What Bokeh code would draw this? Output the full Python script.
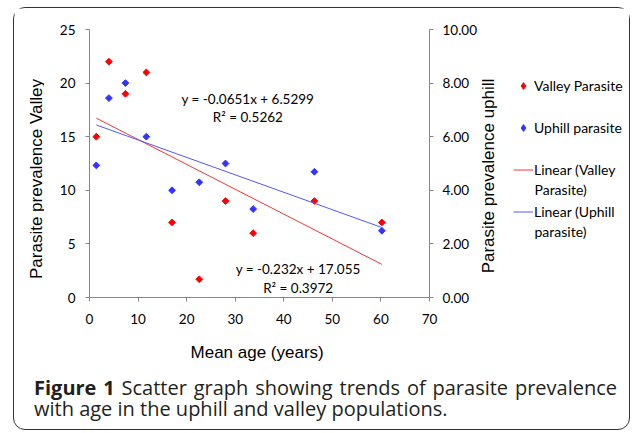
import numpy as np
from bokeh.plotting import figure
from bokeh.layouts import column, row
from bokeh.models import (Range1d, LinearAxis, FixedTicker, NumeralTickFormatter,
                          Label, Legend, LegendItem, Div)
from bokeh.core.properties import value
from bokeh.embed import file_html
from bokeh.resources import INLINE

# ---- data ----
age = [1.4, 4.0, 7.4, 11.7, 17.0, 22.6, 28.0, 33.7, 46.3, 60.2]
valley = [15, 22, 19, 21, 7, 1.7, 9, 6, 9, 7]
uphill = [4.93, 7.44, 8.0, 6.0, 4.0, 4.3, 5.0, 3.3, 4.69, 2.49]
valley_fit = [-0.232, 17.055]      # slope, intercept (Excel trendline)
uphill_fit = [-0.0651, 6.5299]
valley_eq = ["y = -0.232x + 17.055", "R\u00b2 = 0.3972"]
uphill_eq = ["y = -0.0651x + 6.5299", "R\u00b2 = 0.5262"]
x_ticks = [0, 10, 20, 30, 40, 50, 60, 70]
left_ticks = [0, 5, 10, 15, 20, 25]
right_ticks = [0, 2, 4, 6, 8, 10]
legend_first = ["Valley Parasite", "Uphill parasite", "Linear (Valley", "Linear (Uphill"]
legend_second = ["Parasite)", "parasite)"]
x_title = "Mean age  (years)"
left_title = "Parasite prevalence Valley"
right_title = "Parasite prevalence uphill"
caption_bold = "Figure 1"
caption_line1 = "Scatter graph showing trends of parasite prevalence"
caption_line2 = "with age in the uphill and valley populations."

RED = "#ff0000"
BLUE = "#3333ff"
RED_LINE = "#ff3333"
BLUE_LINE = "#5555ff"
AXIS = "#868686"
TICK_FONT = "Lato"
TITLE_FONT = "Liberation Sans"
H = 361            # height of the plot row
BT, BB = 21, 72    # shared top / bottom borders (frames are aligned in a row)
FH = H - BT - BB   # frame height

# ---------------- main plot ----------------
p = figure(width=436, height=H, x_range=Range1d(0, 70), y_range=Range1d(0, 25),
           output_backend="svg", toolbar_location=None, title=None,
           min_border_left=45, min_border_right=50, min_border_top=BT,
           min_border_bottom=BB)
p.outline_line_color = None
p.xgrid.visible = False
p.ygrid.visible = False
p.extra_y_ranges = {"up": Range1d(0, 10)}

x_ax = p.xaxis[0]
left_ax = p.yaxis[0]
x_ax.ticker = FixedTicker(ticks=x_ticks)
left_ax.ticker = FixedTicker(ticks=left_ticks)
right_ax = LinearAxis(y_range_name="up", ticker=FixedTicker(ticks=right_ticks),
                      formatter=NumeralTickFormatter(format="0.00"))
p.add_layout(right_ax, "right")

x_ax.axis_label = x_title

for ax in [x_ax, left_ax, right_ax]:
    ax.axis_line_color = AXIS
    ax.major_tick_line_color = AXIS
    ax.minor_tick_line_color = None
    ax.major_tick_out = 4
    ax.major_tick_in = 0
    ax.major_label_text_font = TICK_FONT
    ax.major_label_text_font_size = "13.5px"
    ax.major_label_text_color = "#000000"
    ax.major_label_standoff = 10
    ax.axis_label_text_font = TITLE_FONT
    ax.axis_label_text_font_size = "17px"
    ax.axis_label_text_font_style = "normal"
    ax.axis_label_text_color = "#000000"
x_ax.major_label_standoff = 12
x_ax.axis_label_standoff = 16
right_ax.major_label_standoff = 9

# scatter points
p.scatter(age, valley, marker="square", angle=np.pi / 4, size=4.8, color=RED)
p.scatter(age, uphill, y_range_name="up", marker="square", angle=np.pi / 4,
          size=4.8, color=BLUE)

# linear trend lines from the fitted equations
xs = [min(age), max(age)]
p.line(xs, [valley_fit[0] * x + valley_fit[1] for x in xs], color=RED_LINE,
       line_width=1)
p.line(xs, [uphill_fit[0] * x + uphill_fit[1] for x in xs], y_range_name="up",
       color=BLUE_LINE, line_width=1)

# equations
def eq_labels(lines, cx, y0, y1):
    for t, yy in zip(lines, [y0, y1]):
        p.add_layout(Label(x=cx, y=yy, text=t, text_align="center",
                           text_baseline="alphabetic", text_font=TICK_FONT,
                           text_font_size="13.5px", text_color="#000000"))

eq_labels(uphill_eq, 32.6, 18.56, 16.82)
eq_labels(valley_eq, 42.96, 2.64, 0.9)


def side_fig(w, left=0):
    f = figure(width=w, height=H, x_range=Range1d(0, w - left), y_range=Range1d(0, FH),
               output_backend="svg", toolbar_location=None, title=None,
               x_axis_location=None, y_axis_location=None,
               min_border_left=left, min_border_right=0, min_border_top=BT,
               min_border_bottom=BB)
    f.outline_line_color = None
    f.xgrid.visible = False
    f.ygrid.visible = False
    return f

# ---------------- axis titles (left / right) ----------------
tl = side_fig(30)
tl.text(x=[21.5], y=[118.5], text=[left_title], angle=np.pi / 2,
        text_align="center", text_baseline="middle",
        text_font=value(TITLE_FONT), text_font_size="17px", text_color="#000000")

tr = side_fig(30)
tr.text(x=[7.5], y=[121.5], text=[right_title], angle=np.pi / 2,
        text_align="center", text_baseline="middle",
        text_font=value(TITLE_FONT), text_font_size="17px", text_color="#000000")

# ---------------- legend ----------------
lg = side_fig(119, left=3)
# legend keys (their single points lie outside the visible range)
k1 = lg.scatter([-50], [-50], marker="diamond", size=9, color=RED)
k2 = lg.scatter([-50], [-50], marker="diamond", size=9, color=BLUE)
k3 = lg.line([-60, -50], [-50, -50], color=RED_LINE, line_width=1)
k4 = lg.line([-60, -50], [-50, -50], color=BLUE_LINE, line_width=1)

legend = Legend(items=[LegendItem(label=t, renderers=[r])
                       for t, r in zip(legend_first, [k1, k2, k3, k4])],
                location=(0, 77.5), padding=0, margin=0, spacing=25,
                glyph_width=20, glyph_height=17, label_height=17,
                label_standoff=1, border_line_alpha=0, background_fill_alpha=0,
                label_text_font=TICK_FONT, label_text_font_size="14px",
                label_text_color="#000000")
lg.add_layout(legend)

lg.text(x=[21, 21], y=[108.5, 66.5], text=legend_second,
        text_align="left", text_baseline="middle",
        text_font=value(TICK_FONT), text_font_size="14px", text_color="#000000")

# ---------------- caption ----------------
caption = Div(
    text=('<div style="margin:8px 0 0 20px;width:583px;'
          'font-family:\'Open Sans\';font-size:20px;line-height:21px;color:#231f20;">'
          '<div style="text-align:justify;text-align-last:justify;white-space:nowrap;">'
          '<b>' + caption_bold + '</b> ' + caption_line1 + '</div>'
          '<div>' + caption_line2 + '</div></div>'),
    width=615, height=60, margin=(0, 0, 0, 0))

root = column(row(tl, p, tr, lg, spacing=0), caption, spacing=0,
              margin=(7, 0, 0, 13),
              styles={"border": "1.5px solid #333333", "border-radius": "12px"})

open("out.html", "w").write(file_html(root, INLINE))
